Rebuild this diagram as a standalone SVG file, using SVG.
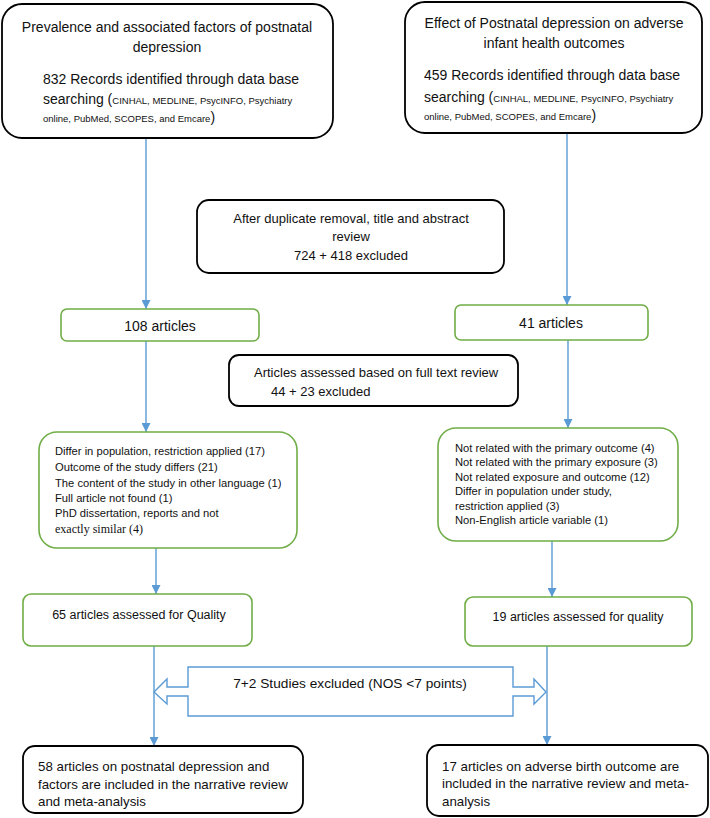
<svg xmlns="http://www.w3.org/2000/svg" width="710" height="818" viewBox="0 0 710 818">
<style>
text{font-family:"Liberation Sans",Arial,sans-serif;fill:#111;}
.bk{fill:#fff;stroke:#000;stroke-width:1.8;}
.gr{fill:#fff;stroke:#70AD47;stroke-width:1.6;}
.cn{fill:none;stroke:#5B9BD5;stroke-width:1.4;}
.c{text-anchor:middle;}
.s14{font-size:14px;}
.s13{font-size:13px;}
.s11{font-size:11.2px;}
.sm{font-size:9.5px;}
</style>
<defs>
<marker id="ah" viewBox="0 0 10 10" refX="10" refY="5" markerWidth="9" markerHeight="9" markerUnits="userSpaceOnUse" orient="auto">
<path d="M0,0 L10,5 L0,10 z" fill="#5B9BD5"/>
</marker>
</defs>
<g id="connectors">
<path class="cn" d="M146,138 V309" marker-end="url(#ah)"/>
<path class="cn" d="M567,133 V305" marker-end="url(#ah)"/>
<path class="cn" d="M146,341 V432" marker-end="url(#ah)"/>
<path class="cn" d="M568,340 V428" marker-end="url(#ah)"/>
<path class="cn" d="M156,548 V594" marker-end="url(#ah)"/>
<path class="cn" d="M552,541 V597" marker-end="url(#ah)"/>
<path class="cn" d="M154,646 V746" marker-end="url(#ah)"/>
<path class="cn" d="M547,646 V745" marker-end="url(#ah)"/>
</g>
<g id="n-prev">
<rect class="bk" x="2" y="4" width="331" height="134" rx="20"/>
<text class="s14 c" x="167" y="32">Prevalence and associated factors of postnatal</text>
<text class="s14 c" x="167" y="52">depression</text>
<text class="s14" x="43" y="84">832 Records identified through data base</text>
<text class="s14" x="43" y="104">searching (<tspan class="sm">CINHAL, MEDLINE, PsycINFO, Psychiatry</tspan></text>
<text class="sm" x="43" y="122">online, PubMed, SCOPES, and Emcare<tspan class="s14">)</tspan></text>
</g>
<g id="n-effect">
<rect class="bk" x="405" y="2" width="297" height="131" rx="20"/>
<text class="s14 c" x="554" y="28">Effect of Postnatal depression on adverse</text>
<text class="s14 c" x="554" y="48">infant health outcomes</text>
<text class="s14" x="424" y="80">459 Records identified through data base</text>
<text class="s14" x="424" y="102">searching (<tspan class="sm">CINHAL, MEDLINE, PsycINFO, Psychiatry</tspan></text>
<text class="sm" x="424" y="120">online, PubMed, SCOPES, and Emcare<tspan class="s14">)</tspan></text>
</g>
<g id="n-dup">
<rect class="bk" x="197" y="200" width="307" height="73" rx="12"/>
<text class="s13 c" x="351" y="223">After duplicate removal, title and abstract</text>
<text class="s13 c" x="351" y="241">review</text>
<text class="s13 c" x="351" y="260">724 + 418 excluded</text>
</g>
<g id="n-108">
<rect class="gr" x="61" y="309" width="198" height="32" rx="6"/>
<text class="s14 c" x="160" y="331">108 articles</text>
</g>
<g id="n-41">
<rect class="gr" x="455" y="305" width="193" height="35" rx="6"/>
<text class="s14 c" x="551" y="328">41 articles</text>
</g>
<g id="n-fulltext">
<rect class="bk" x="229" y="355" width="289" height="51" rx="10"/>
<text class="s13" x="254" y="377">Articles assessed based on full text review</text>
<text class="s13" x="271" y="396">44 + 23 excluded</text>
</g>
<g id="n-exclL">
<rect class="gr" x="39" y="432" width="258" height="116" rx="18"/>
<text class="s11" x="55" y="455">Differ in population, restriction applied (17)</text>
<text class="s11" x="55" y="471">Outcome of the study differs (21)</text>
<text class="s11" x="55" y="487">The content of the study in other language (1)</text>
<text class="s11" x="55" y="502">Full article not found (1)</text>
<text class="s11" x="55" y="517">PhD dissertation, reports and not</text>
<text class="s11" x="55" y="533" style="font-family:'Liberation Serif',serif;font-size:12px">exactly similar (4)</text>
</g>
<g id="n-exclR">
<rect class="gr" x="438" y="428" width="240" height="113" rx="18"/>
<text class="s11" x="455" y="452">Not related with the primary outcome (4)</text>
<text class="s11" x="455" y="466">Not related with the primary exposure (3)</text>
<text class="s11" x="455" y="481">Not related exposure and outcome (12)</text>
<text class="s11" x="455" y="495">Differ in population under study,</text>
<text class="s11" x="455" y="510">restriction applied (3)</text>
<text class="s11" x="455" y="524">Non-English article variable (1)</text>
</g>
<g id="n-65">
<rect class="gr" x="23" y="594" width="229" height="52" rx="8"/>
<text class="c" x="139" y="619" style="font-size:12.5px">65 articles assessed for Quality</text>
</g>
<g id="n-19">
<rect class="gr" x="465" y="597" width="227" height="49" rx="8"/>
<text class="c" x="578" y="621" style="font-size:12.5px">19 articles assessed for quality</text>
</g>
<g id="n-nos">
<polygon fill="#fff" stroke="#5B9BD5" stroke-width="1.4" points="188,667 513,667 513,687 534,687 534,679 546,692 534,704 534,696 513,696 513,716 188,716 188,696 167,696 167,704 154,692 167,679 167,687 188,687"/>
<text class="c" x="350" y="688" style="font-size:13.7px">7+2 Studies excluded (NOS &lt;7 points)</text>
</g>
<g id="n-58">
<rect class="bk" x="23" y="746" width="280" height="67" rx="12"/>
<text x="38" y="771" style="font-size:13.3px">58 articles on postnatal depression and</text>
<text x="38" y="789" style="font-size:13.3px">factors are included in the narrative review</text>
<text x="38" y="806" style="font-size:13.3px">and meta-analysis</text>
</g>
<g id="n-17">
<rect class="bk" x="427" y="745" width="281" height="71" rx="12"/>
<text x="442" y="771" style="font-size:13.3px">17 articles on adverse birth outcome are</text>
<text x="442" y="788" style="font-size:13.3px">included in the narrative review and meta-</text>
<text x="442" y="806" style="font-size:13.3px">analysis</text>
</g>
</svg>
